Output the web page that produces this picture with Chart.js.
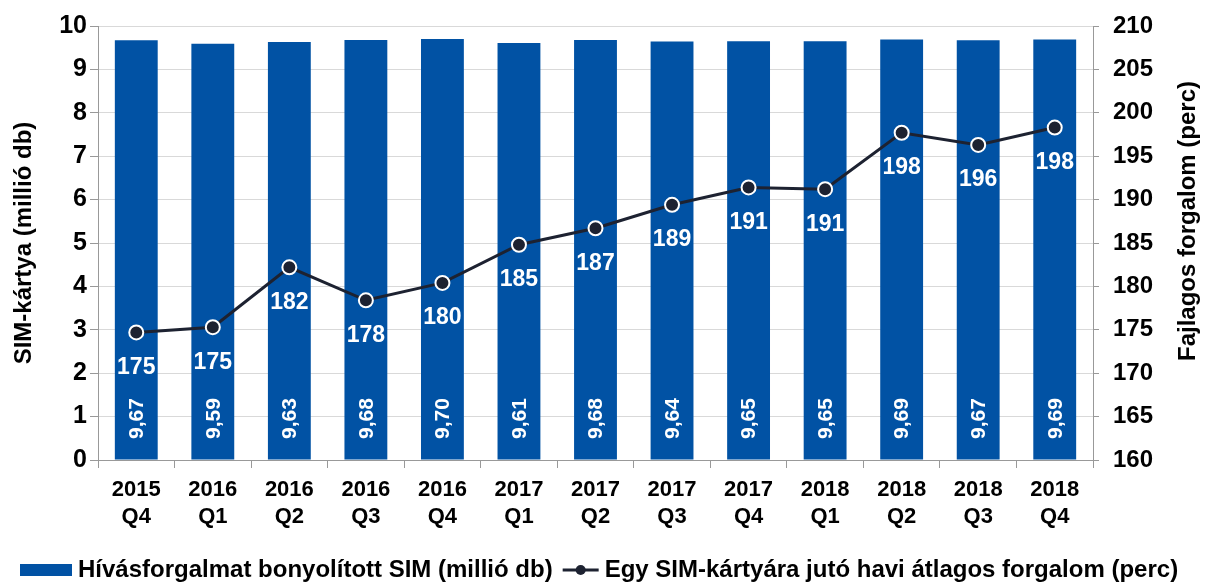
<!DOCTYPE html>
<html>
<head>
    <title>SIM-kártya forgalom</title>
    <script src="https://cdn.jsdelivr.net/npm/chart.js"></script>
    <style>
        html, body { margin: 0; padding: 0; background: #fff; }
        .chart-container { position: relative; width: 1209px; height: 583px; }
    </style>
</head>
<body>
    <div class="chart-container">
        <canvas id="chartContainer"></canvas>
    </div>

    <script>
        // data
        const quarters = [
            ['2015', 'Q4'], ['2016', 'Q1'], ['2016', 'Q2'], ['2016', 'Q3'], ['2016', 'Q4'],
            ['2017', 'Q1'], ['2017', 'Q2'], ['2017', 'Q3'], ['2017', 'Q4'],
            ['2018', 'Q1'], ['2018', 'Q2'], ['2018', 'Q3'], ['2018', 'Q4']
        ];
        const simCount = [9.67, 9.59, 9.63, 9.68, 9.70, 9.61, 9.68, 9.64, 9.65, 9.65, 9.69, 9.67, 9.69];
        const avgTraffic = [174.7, 175.3, 182.2, 178.4, 180.4, 184.8, 186.7, 189.4, 191.4, 191.2, 197.7, 196.3, 198.3];

        const barLabel = 'Hívásforgalmat bonyolított SIM (millió db)';
        const lineLabel = 'Egy SIM-kártyára jutó havi átlagos forgalom (perc)';
        const leftTitle = 'SIM-kártya (millió db)';
        const rightTitle = 'Fajlagos forgalom (perc)';

        const barColor = '#0152a4';
        const lineColor = '#1d2231';
        const fontFamily = '"Liberation Sans", Arial, sans-serif';

        // values written on the bars and under the points
        const valueLabels = {
            id: 'valueLabels',
            afterDatasetsDraw(chart) {
                const ctx = chart.ctx;
                ctx.save();
                ctx.fillStyle = '#ffffff';
                ctx.textAlign = 'center';
                ctx.textBaseline = 'middle';

                ctx.font = 'bold 21px ' + fontFamily;
                const bars = chart.getDatasetMeta(1).data;
                bars.forEach((bar, i) => {
                    ctx.save();
                    ctx.translate(bar.x, bar.base - 41);
                    ctx.rotate(-Math.PI / 2);
                    ctx.fillText(simCount[i].toFixed(2).replace('.', ','), 0, 1);
                    ctx.restore();
                });

                ctx.font = 'bold 23px ' + fontFamily;
                const points = chart.getDatasetMeta(0).data;
                points.forEach((pt, i) => {
                    ctx.fillText(String(Math.round(avgTraffic[i])), pt.x, pt.y + 35);
                });
                ctx.restore();
            }
        };

        // legend at the bottom and the right axis title (reads bottom to top)
        const extras = {
            id: 'extras',
            afterDraw(chart) {
                const ctx = chart.ctx;
                ctx.save();
                ctx.font = 'bold 24px ' + fontFamily;
                ctx.fillStyle = '#000';
                ctx.textAlign = 'center';
                ctx.textBaseline = 'middle';
                ctx.translate(1188, 221);
                ctx.rotate(-Math.PI / 2);
                ctx.fillText(rightTitle, 0, 0);
                ctx.restore();

                const y = 570;
                ctx.save();
                ctx.font = 'bold 24px ' + fontFamily;
                ctx.textBaseline = 'middle';
                ctx.textAlign = 'left';

                ctx.fillStyle = barColor;
                ctx.fillRect(20, y - 6, 52, 12);
                ctx.fillStyle = '#000';
                ctx.fillText(barLabel, 78, y);
                const w = ctx.measureText(barLabel).width;

                const lx = 78 + w + 10;
                ctx.strokeStyle = lineColor;
                ctx.lineWidth = 3;
                ctx.beginPath();
                ctx.moveTo(lx, y);
                ctx.lineTo(lx + 36, y);
                ctx.stroke();
                ctx.fillStyle = lineColor;
                ctx.beginPath();
                ctx.arc(lx + 18, y, 5, 0, Math.PI * 2);
                ctx.fill();

                ctx.fillStyle = '#000';
                ctx.fillText(lineLabel, lx + 42, y);
                ctx.restore();
            }
        };

        const ctx = document.getElementById('chartContainer').getContext('2d');
        new Chart(ctx, {
            data: {
                labels: quarters,
                datasets: [
                    {
                        type: 'line',
                        label: lineLabel,
                        data: avgTraffic,
                        yAxisID: 'y1',
                        borderColor: lineColor,
                        borderWidth: 3,
                        pointRadius: 7,
                        pointBackgroundColor: lineColor,
                        pointBorderColor: '#ffffff',
                        pointBorderWidth: 2,
                        tension: 0,
                        order: 0
                    },
                    {
                        type: 'bar',
                        label: barLabel,
                        data: simCount,
                        yAxisID: 'y',
                        backgroundColor: barColor,
                        barPercentage: 0.56,
                        categoryPercentage: 1.0,
                        order: 1
                    }
                ]
            },
            options: {
                responsive: true,
                maintainAspectRatio: false,
                animation: false,
                layout: { padding: { top: 24, right: 0, bottom: 0, left: 0 } },
                plugins: {
                    legend: { display: false },
                    tooltip: { enabled: false }
                },
                scales: {
                    x: {
                        offset: true,
                        grid: {
                            offset: true,
                            drawOnChartArea: false,
                            tickLength: 8,
                            tickColor: '#999'
                        },
                        border: { color: '#999', width: 1 },
                        ticks: {
                            color: '#000',
                            padding: 8,
                            maxRotation: 0,
                            font: { family: fontFamily, size: 22, weight: 'bold', lineHeight: 1.25 }
                        },
                        afterFit(scale) { scale.height = 123; }
                    },
                    y: {
                        position: 'left',
                        min: 0,
                        max: 10,
                        ticks: {
                            stepSize: 1,
                            color: '#000',
                            padding: 3,
                            font: { family: fontFamily, size: 25, weight: 'bold', lineHeight: 1 }
                        },
                        grid: { color: '#d9d9d9', tickLength: 8, tickColor: '#999' },
                        border: { color: '#999', width: 1 },
                        title: {
                            display: true,
                            text: leftTitle,
                            color: '#000',
                            padding: { top: 10, bottom: 0 },
                            font: { family: fontFamily, size: 24, weight: 'bold', lineHeight: 1.2 }
                        },
                        afterFit(scale) { scale.width = 98; }
                    },
                    y1: {
                        position: 'right',
                        min: 160,
                        max: 210,
                        ticks: {
                            stepSize: 5,
                            color: '#000',
                            padding: 14,
                            font: { family: fontFamily, size: 24, weight: 'bold', lineHeight: 1 }
                        },
                        grid: { drawOnChartArea: false, tickLength: 6, tickColor: '#999' },
                        border: { color: '#999', width: 1 },
                        afterFit(scale) { scale.width = 116; }
                    }
                }
            },
            plugins: [valueLabels, extras]
        });
    </script>
</body>
</html>
